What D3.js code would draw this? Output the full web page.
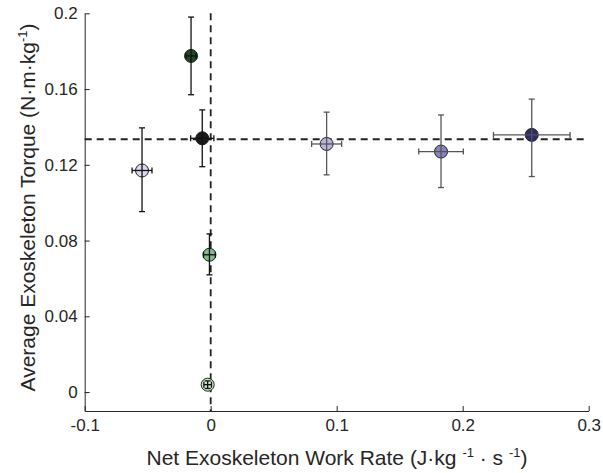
<!DOCTYPE html>
<html><head><meta charset="utf-8">
<script src="https://cdn.jsdelivr.net/npm/d3@7"></script>
<style>body{margin:0;background:#fff}svg{display:block}text{font-family:"Liberation Sans",Arial,sans-serif;fill:#262626}</style>
</head><body><svg id="c" width="603" height="473"></svg>
<script>
const conditions = ["A","B","C","D","E","F","G","H"];
const workRate = [-0.0545, -0.0156, -0.0067, -0.0010, -0.0024, 0.0920, 0.1828, 0.2548];
const workRateErr = [0.0079, 0.004, 0.0092, 0.0047, 0.003, 0.0119, 0.0177, 0.0304];
const torque = [0.117, 0.1775, 0.134, 0.0725, 0.0039, 0.131, 0.127, 0.1358];
const torqueErrLo = [0.0217, 0.0205, 0.015, 0.0106, 0.002, 0.0163, 0.019, 0.022];
const torqueErrHi = [0.0225, 0.0205, 0.015, 0.011, 0.002, 0.0168, 0.0193, 0.0189];
const fills = ["#d9d7ed","#1f4a27","#1a1a1a","#80bb8c","#cde8cf","#b7b5dc","#8784c2","#2d2b68"];
const barColors = ["#111","#111","#111","#111","#111","#555","#555","#555"];
const xTicks = [-0.1, 0, 0.1, 0.2, 0.3];
const xTickLabels = ["-0.1", "0", "0.1", "0.2", "0.3"];
const yTicks = [0, 0.04, 0.08, 0.12, 0.16, 0.2];
const yTickLabels = ["0", "0.04", "0.08", "0.12", "0.16", "0.2"];
const refTorque = 0.1335;
const refWork = 0;

const svg = d3.select("#c");
const x = d3.scaleLinear().domain([-0.1, 0.3]).range([84.7, 588.7]);
const y = d3.scaleLinear().domain([-0.01, 0.2]).range([411, 13.3]);

// axes
const xAxis = d3.axisBottom(x).tickValues(xTicks).tickSizeInner(-5).tickSizeOuter(0)
  .tickFormat((d, i) => xTickLabels[i]).tickPadding(8);
const gx = svg.append("g").attr("transform", `translate(0,${y(-0.01)})`).call(xAxis);
const yAxis = d3.axisLeft(y).tickValues(yTicks).tickSizeInner(-5).tickSizeOuter(0)
  .tickFormat((d, i) => yTickLabels[i]).tickPadding(7);
const gy = svg.append("g").attr("transform", `translate(${x(-0.1)},0)`).call(yAxis);
[gx, gy].forEach(g => {
  g.selectAll("path.domain").attr("stroke", "#262626").attr("stroke-width", 1);
  g.selectAll(".tick line").attr("stroke", "#262626");
  g.selectAll(".tick text").style("font-size", "17px").style("font-family", "Liberation Sans, Arial, sans-serif").attr("fill", "#262626");
});

// reference dashed lines
svg.append("line").attr("x1", x(-0.1)).attr("x2", x(0.3)).attr("y1", y(refTorque)).attr("y2", y(refTorque))
  .attr("stroke", "#222").attr("stroke-width", 1.8).attr("stroke-dasharray", "7,5");
svg.append("line").attr("x1", x(refWork)).attr("x2", x(refWork)).attr("y1", y(0.2)).attr("y2", y(-0.01))
  .attr("stroke", "#222").attr("stroke-width", 1.8).attr("stroke-dasharray", "7,5");

const data = conditions.map((c, i) => ({c, x: workRate[i], xe: workRateErr[i], y: torque[i], lo: torqueErrLo[i], hi: torqueErrHi[i], fill: fills[i], bc: barColors[i]}));
const g = svg.append("g");
data.forEach(d => {
  g.append("circle").attr("cx", x(d.x)).attr("cy", y(d.y)).attr("r", 6.5)
    .attr("fill", d.fill).attr("stroke", "#222").attr("stroke-width", 1);
});
const cap = 3;
data.forEach(d => {
  const cx = x(d.x), cy = y(d.y);
  const y1 = y(d.y + d.hi), y2 = y(d.y - d.lo), x1 = x(d.x - d.xe), x2 = x(d.x + d.xe);
  const e = g.append("g").attr("stroke", d.bc).attr("stroke-width", 1.3).attr("fill", "none");
  e.append("line").attr("x1", cx).attr("x2", cx).attr("y1", y1).attr("y2", y2);
  e.append("line").attr("x1", cx - cap).attr("x2", cx + cap).attr("y1", y1).attr("y2", y1);
  e.append("line").attr("x1", cx - cap).attr("x2", cx + cap).attr("y1", y2).attr("y2", y2);
  e.append("line").attr("x1", x1).attr("x2", x2).attr("y1", cy).attr("y2", cy);
  e.append("line").attr("x1", x1).attr("x2", x1).attr("y1", cy - cap).attr("y2", cy + cap);
  e.append("line").attr("x1", x2).attr("x2", x2).attr("y1", cy - cap).attr("y2", cy + cap);
});

// axis titles
const xt = svg.append("text").attr("x", 0).attr("y", 465).attr("text-anchor", "start").style("font-size", "21px");
xt.append("tspan").text("Net Exoskeleton Work Rate (J·kg ");
xt.append("tspan").text("-1").style("font-size", "13px").attr("dy", -8);
xt.append("tspan").text(" · s ").attr("dy", 8);
xt.append("tspan").text("-1").style("font-size", "13px").attr("dy", -8);
xt.append("tspan").text(")").attr("dy", 8);
const xw = xt.node().getComputedTextLength();
xt.attr("x", 337 - xw / 2);

const yt = svg.append("text").attr("text-anchor", "start").style("font-size", "21px");
yt.append("tspan").text("Average Exoskeleton Torque (N·m·kg");
yt.append("tspan").text("-1").style("font-size", "13px").attr("dy", -8);
yt.append("tspan").text(")").attr("dy", 8);
const yw = yt.node().getComputedTextLength();
yt.attr("transform", `translate(35,${207.5 + yw / 2}) rotate(-90)`);
</script></body></html>
